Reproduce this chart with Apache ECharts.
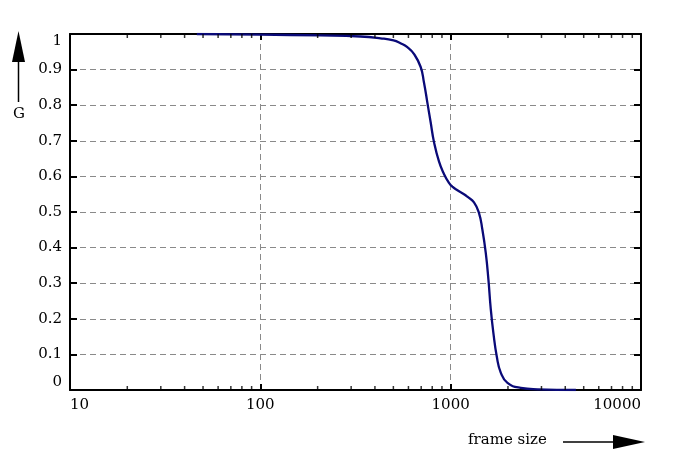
<!DOCTYPE html>
<html>
<head>
<meta charset="utf-8">
<script src="https://cdn.jsdelivr.net/npm/echarts@6/dist/echarts.min.js"></script>
<style>html,body{margin:0;padding:0;background:#fff;}#c{width:693px;height:461px;}</style>
</head>
<body>
<div id="c"></div>
<script>
// frame size (x, log scale) and G values
const frameSize = [46.4, 100, 207, 336, 428, 501, 545, 592, 641, 695, 724, 754, 785, 817, 868, 922, 980, 1021, 1085, 1175, 1224, 1326, 1409, 1468, 1529, 1579, 1624, 1677, 1746, 1833, 1988, 2336, 2860, 4550];
const gValues  = [1.0, 0.998, 0.996, 0.993, 0.988, 0.982, 0.974, 0.963, 0.944, 0.908, 0.864, 0.808, 0.752, 0.697, 0.642, 0.607, 0.582, 0.571, 0.561, 0.550, 0.543, 0.527, 0.497, 0.450, 0.385, 0.310, 0.228, 0.160, 0.095, 0.049, 0.020, 0.006, 0.002, 0.0];
const xTickLabels = [10, 100, 1000, 10000];
const yTickLabels = [0, 0.1, 0.2, 0.3, 0.4, 0.5, 0.6, 0.7, 0.8, 0.9, 1];
const xMinorTicks = [20, 30, 40, 50, 60, 70, 80, 90, 200, 300, 400, 500, 600, 700, 800, 900, 2000, 3000, 4000, 5000, 6000, 7000, 8000, 9000];

const FONT = 'DejaVu Serif';
const chart = echarts.init(document.getElementById('c'), null, {renderer: 'canvas'});
const grid = {left: 70, top: 34, width: 571, height: 356, show: false};
const dash = {type: [6, 4], color: '#8a8a8a', width: 1};

chart.setOption({
  animation: false,
  backgroundColor: '#fff',
  grid: grid,
  xAxis: [{
    type: 'log', logBase: 10, min: 10, max: 10000, position: 'bottom',
    axisLine: {show: true, onZero: false, lineStyle: {color: '#000', width: 2}},
    axisTick: {show: true, inside: true, length: 6, lineStyle: {color: '#000', width: 2}},
    axisLabel: {show: true, fontFamily: FONT, fontSize: 15, color: '#000', margin: 8,
      alignMinLabel: 'left', alignMaxLabel: 'right',
      formatter: v => (xTickLabels.indexOf(Math.round(v)) >= 0 ? String(Math.round(v)) : '')},
    splitLine: {show: true, lineStyle: dash},
    minorTick: {show: false}
  }, {
    type: 'log', logBase: 10, min: 10, max: 10000, position: 'top',
    axisLine: {show: true, onZero: false, lineStyle: {color: '#000', width: 2}},
    axisTick: {show: true, inside: true, length: 6, lineStyle: {color: '#000', width: 2}},
    axisLabel: {show: false},
    splitLine: {show: false}
  }],
  yAxis: [{
    type: 'value', min: 0, max: 1, interval: 0.1, position: 'left',
    axisLine: {show: true, onZero: false, lineStyle: {color: '#000', width: 2}},
    axisTick: {show: true, inside: true, length: 7, lineStyle: {color: '#000', width: 2}},
    axisLabel: {show: true, fontFamily: FONT, fontSize: 15, color: '#000', margin: 8,
      verticalAlignMinLabel: 'bottom', verticalAlignMaxLabel: 'top',
      formatter: v => String(Math.round(v * 10) / 10)},
    splitLine: {show: true, lineStyle: dash}
  }, {
    type: 'value', min: 0, max: 1, interval: 0.1, position: 'right',
    axisLine: {show: true, onZero: false, lineStyle: {color: '#000', width: 2}},
    axisTick: {show: true, inside: true, length: 7, lineStyle: {color: '#000', width: 2}},
    axisLabel: {show: false},
    splitLine: {show: false}
  }],
  series: [{
    type: 'line',
    data: frameSize.map((x, i) => [x, gValues[i]]),
    showSymbol: false,
    smooth: 0.5,
    lineStyle: {color: '#0a0a78', width: 2.3},
    z: 5
  }, {
    type: 'scatter', silent: true, clip: false,
    data: xMinorTicks.map(v => [v, 0]),
    symbol: 'rect', symbolSize: [1.5, 4], symbolOffset: [0, -2],
    itemStyle: {color: '#000'}, z: 6
  }, {
    type: 'scatter', silent: true, clip: false,
    data: xMinorTicks.map(v => [v, 1]),
    symbol: 'rect', symbolSize: [1.5, 4], symbolOffset: [0, 2],
    itemStyle: {color: '#000'}, z: 6
  }],
  graphic: [
    {type: 'text', left: 13, top: 107, style: {text: 'G', font: '15px "DejaVu Serif"', fill: '#000'}},
    {type: 'line', shape: {x1: 18.5, y1: 102, x2: 18.5, y2: 55}, style: {stroke: '#000', lineWidth: 1.5}},
    {type: 'polygon', shape: {points: [[18.5, 31], [12, 62], [25, 62]]}, style: {fill: '#000'}},
    {type: 'text', left: 468, top: 433, style: {text: 'frame size', font: '15px "DejaVu Serif"', fill: '#000'}},
    {type: 'line', shape: {x1: 563, y1: 442, x2: 620, y2: 442}, style: {stroke: '#000', lineWidth: 1.5}},
    {type: 'polygon', shape: {points: [[645, 442], [613, 435], [613, 449]]}, style: {fill: '#000'}}
  ]
});
</script>
</body>
</html>
